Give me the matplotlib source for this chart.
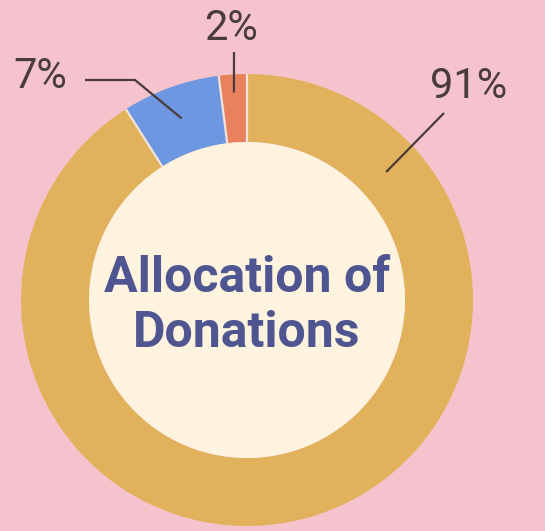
import numpy as np
import matplotlib.pyplot as plt
from matplotlib.patches import Circle

W, H = 545, 531

# data
labels = ["Programs", "Fundraising", "Administration"]
shares = [91, 7, 2]
colors = ["#E2B15B", "#6D97E1", "#E8815E"]
title_lines = ["Allocation of", "Donations"]

# layout (pixels, y measured from top)
CX, CY = 247, 300
R_OUT, R_IN = 226, 158
BG = "#F5C3CD"
CREAM = "#FDF3DF"
INK = "#4A3B3D"


def py(y):
    return H - y


fig = plt.figure(figsize=(W / 100, H / 100), dpi=100)
fig.patch.set_facecolor(BG)
ax = fig.add_axes([0, 0, 1, 1])
ax.set_facecolor(BG)

wedges, _ = ax.pie(shares, colors=colors, startangle=90, counterclock=False,
                   radius=R_OUT, center=(CX, py(CY)),
                   wedgeprops=dict(width=R_OUT - R_IN, edgecolor="none", linewidth=0))

# thin light separators between slices
for w in wedges:
    t = np.radians(w.theta1)
    ax.plot([CX + R_IN * np.cos(t), CX + R_OUT * np.cos(t)],
            [py(CY) + R_IN * np.sin(t), py(CY) + R_OUT * np.sin(t)],
            color="#F1E4DA", lw=1.6, zorder=2, solid_capstyle="butt")

ax.add_patch(Circle((CX, py(CY)), R_IN, facecolor=CREAM, edgecolor="none", zorder=3))

# leader lines: anchor angle, anchor radius, path to text, text position
leaders = {
    "91": dict(angle=42.6, r=189, path=[(444, 113)], text=(469, 86)),
    "7": dict(angle=None, r=193, path=[(135, 80), (85, 80)], text=(40, 76)),
    "2": dict(angle=None, r=208, path=[(234, 52)], text=(231, 28)),
}
for w, v in zip(wedges, shares):
    spec = leaders[str(v)]
    ang = spec["angle"] if spec["angle"] is not None else (w.theta1 + w.theta2) / 2
    ax0 = CX + spec["r"] * np.cos(np.radians(ang))
    ay0 = CY - spec["r"] * np.sin(np.radians(ang))
    xs = [ax0] + [p[0] for p in spec["path"]]
    ys = [py(ay0)] + [py(p[1]) for p in spec["path"]]
    ax.plot(xs, ys, color=INK, lw=1.6, zorder=5, solid_capstyle="butt")
    ax.text(spec["text"][0], py(spec["text"][1]), f"{v}%", fontsize=30,
            family="Roboto", weight="normal", color=INK, ha="center", va="center", zorder=6)

ax.text(CX, py(306), "\n".join(title_lines), fontsize=36, family="Roboto",
        weight="bold", color="#4F5590", ha="center", va="center",
        linespacing=1.2, zorder=6)

ax.set_xlim(0, W)
ax.set_ylim(0, H)
ax.set_aspect("equal")
ax.axis("off")

fig.savefig("out.png", dpi=100, facecolor=BG)
